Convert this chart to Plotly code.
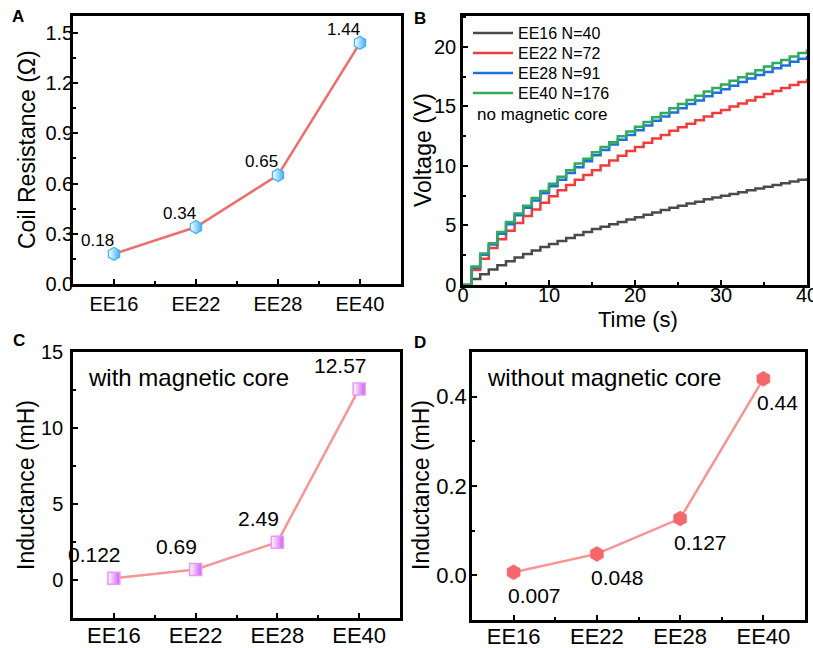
import plotly.graph_objects as go

W, H = 813, 648
FONT = "Arial, Liberation Sans, sans-serif"

# ---------------- data ----------------
categories = ["EE16", "EE22", "EE28", "EE40"]
coil_resistance = [0.18, 0.34, 0.65, 1.44]
inductance_core = [0.122, 0.69, 2.49, 12.57]
inductance_air = [0.007, 0.048, 0.127, 0.44]
resistance_labels = ["0.18", "0.34", "0.65", "1.44"]
core_labels = ["0.122", "0.69", "2.49", "12.57"]
air_labels = ["0.007", "0.048", "0.127", "0.44"]

time_s = list(range(41))
v_ee16 = [0, 0.5, 0.9, 1.3, 1.65, 2.0, 2.3, 2.6, 2.9, 3.2, 3.45, 3.7, 3.95, 4.2,
          4.45, 4.7, 4.9, 5.1, 5.3, 5.5, 5.7, 5.9, 6.1, 6.3, 6.5, 6.65, 6.85,
          7.0, 7.2, 7.35, 7.5, 7.65, 7.8, 7.95, 8.1, 8.25, 8.4, 8.55, 8.7, 8.85, 9.0]
v_ee22 = [0, 1.25, 2.2, 3.1, 3.85, 4.55, 5.2, 5.8, 6.35, 6.9, 7.45, 7.95, 8.4, 8.85,
          9.25, 9.65, 10.05, 10.45, 10.85, 11.25, 11.6, 11.95, 12.3, 12.6, 12.95,
          13.25, 13.55, 13.85, 14.15, 14.45, 14.7, 15.0, 15.25, 15.5, 15.8, 16.05,
          16.3, 16.55, 16.8, 17.05, 17.3]
v_ee28 = [0, 1.45, 2.55, 3.4, 4.3, 5.1, 5.85, 6.5, 7.1, 7.7, 8.3, 8.85, 9.4, 9.9,
          10.4, 10.9, 11.35, 11.8, 12.2, 12.6, 13.0, 13.4, 13.8, 14.15, 14.5, 14.85,
          15.2, 15.5, 15.85, 16.15, 16.45, 16.75, 17.05, 17.35, 17.65, 17.9, 18.2,
          18.45, 18.75, 19.0, 19.25]
v_ee40 = [0, 1.55, 2.65, 3.5, 4.45, 5.3, 6.0, 6.65, 7.3, 7.9, 8.5, 9.1, 9.65, 10.2,
          10.6, 11.15, 11.6, 12.0, 12.5, 12.9, 13.3, 13.7, 14.1, 14.45, 14.85, 15.2,
          15.55, 15.9, 16.25, 16.55, 16.85, 17.15, 17.45, 17.75, 18.05, 18.35, 18.65,
          18.9, 19.2, 19.5, 19.8]
series_names = ["EE16 N=40", "EE22 N=72", "EE28 N=91", "EE40 N=176"]
series_values = [v_ee16, v_ee22, v_ee28, v_ee40]
series_colors = ["#4a4a4a", "#f23c3c", "#1f6fdc", "#2faa5e"]

cat_x = list(range(len(categories)))
cat_minor = [i + 0.5 for i in range(len(categories) - 1)]


def px_x(p):
    return p / W


def px_y(p):
    return 1 - p / H


fig = go.Figure()

# ---------------- A: coil resistance ----------------
fig.add_trace(go.Scatter(
    x=cat_x, y=coil_resistance, mode="lines+markers", showlegend=False,
    line=dict(color="#f26b6b", width=2.5),
    marker=dict(symbol="hexagon", size=13, color="white",
                gradient=dict(type="horizontal", color="#3fb0f7"),
                line=dict(color="#3fb0f7", width=1.2)),
    xaxis="x", yaxis="y"))

# ---------------- B: voltage curves ----------------
legend_ids = ["legend", "legend2", "legend3", "legend4"]
for name, vals, col, lg in zip(series_names, series_values, series_colors, legend_ids):
    fig.add_trace(go.Scatter(
        x=time_s, y=vals, mode="lines", name=name, line_shape="hv", legend=lg,
        line=dict(color=col, width=2.5), xaxis="x2", yaxis="y2"))

# ---------------- C: inductance with core ----------------
fig.add_trace(go.Scatter(
    x=cat_x, y=inductance_core, mode="lines+markers", showlegend=False,
    line=dict(color="#f79696", width=2.5),
    marker=dict(symbol="square", size=12, color="white",
                gradient=dict(type="horizontal", color="#d55cf2"),
                line=dict(color="#e49af6", width=1.5)),
    xaxis="x3", yaxis="y3"))

# ---------------- D: inductance without core ----------------
fig.add_trace(go.Scatter(
    x=cat_x, y=inductance_air, mode="lines+markers", showlegend=False,
    line=dict(color="#f79494", width=2.5),
    marker=dict(symbol="hexagon", size=15, color="#f4676b",
                line=dict(color="#f4676b", width=0.5)),
    xaxis="x4", yaxis="y4"))


def minor(**kw):
    d = dict(ticks="inside", ticklen=3, tickwidth=2, tickcolor="black")
    d.update(kw)
    return d


def tf(size):
    return dict(size=size, color="black", family=FONT)


def axis_style(**kw):
    d = dict(showline=True, linecolor="black", linewidth=2.5, mirror=True,
             ticks="inside", ticklen=5, tickwidth=2, tickcolor="black",
             showgrid=False, zeroline=False, automargin=False,
             tickfont=tf(20))
    d.update(kw)
    return d


minor_cat = minor(tickmode="array", tickvals=cat_minor)

layout_legends = {}
for lg, yc in zip(legend_ids, [33, 53, 73, 93]):
    layout_legends[lg] = dict(x=px_x(468), y=px_y(yc), xanchor="left", yanchor="middle",
                              bgcolor="rgba(0,0,0,0)", font=tf(16), itemwidth=40)

fig.update_layout(
    width=W, height=H, margin=dict(l=0, r=0, t=0, b=0, autoexpand=False),
    paper_bgcolor="white", plot_bgcolor="white",
    font=dict(family=FONT, color="black"),
    xaxis=axis_style(domain=[px_x(73), px_x(401)], anchor="y", range=[-0.5, 3.5],
                     tickmode="array", tickvals=cat_x, ticktext=categories,
                     minor=minor_cat),
    yaxis=axis_style(domain=[px_y(284), px_y(16)], anchor="x", range=[0, 1.6],
                     tickmode="linear", tick0=0, dtick=0.3, tickformat=".1f",
                     ticklabelstandoff=-7, minor=minor(dtick=0.15)),
    xaxis2=axis_style(domain=[px_x(463), px_x(807)], anchor="y2", range=[0, 40],
                      tickmode="linear", tick0=0, dtick=10, ticklabelstandoff=-10,
                      ticklabeloverflow="allow", minor=minor(dtick=5)),
    yaxis2=axis_style(domain=[px_y(285), px_y(16)], anchor="x2", range=[0, 22.6],
                      tickmode="linear", tick0=0, dtick=5, ticklabelstandoff=0,
                      minor=minor(dtick=2.5)),
    xaxis3=axis_style(domain=[px_x(73), px_x(400)], anchor="y3", range=[-0.5, 3.5],
                      tickmode="array", tickvals=cat_x, ticktext=categories,
                      tickfont=tf(22), ticklabelstandoff=-4, minor=minor_cat),
    yaxis3=axis_style(domain=[px_y(618), px_y(352)], anchor="x3", range=[-2.5, 15],
                      tickmode="linear", tick0=0, dtick=5, ticklabelstandoff=3,
                      minor=minor(dtick=2.5)),
    xaxis4=axis_style(domain=[px_x(472), px_x(805)], anchor="y4", range=[-0.5, 3.5],
                      tickmode="array", tickvals=cat_x, ticktext=categories,
                      tickfont=tf(22), ticklabelstandoff=-5, minor=minor_cat),
    yaxis4=axis_style(domain=[px_y(620), px_y(352)], anchor="x4", range=[-0.1, 0.5],
                      tickmode="linear", tick0=0, dtick=0.2, tickformat=".1f",
                      ticklabelstandoff=-2, tickfont=tf(22),
                      minor=minor(dtick=0.1)),
    **layout_legends,
)

ann = []
# value labels
for i, (v, t) in enumerate(zip(coil_resistance, resistance_labels)):
    ann.append(dict(x=cat_x[i], y=v, xref="x", yref="y", text=t, showarrow=False,
                    xanchor="right", yanchor="bottom", xshift=2, yshift=2,
                    font=dict(size=17)))
for i, (v, t) in enumerate(zip(inductance_core, core_labels)):
    ann.append(dict(x=cat_x[i], y=v, xref="x3", yref="y3", text=t, showarrow=False,
                    xanchor="center", yanchor="bottom", xshift=-19, yshift=10,
                    font=dict(size=21)))
for i, (v, t) in enumerate(zip(inductance_air, air_labels)):
    ann.append(dict(x=cat_x[i], y=v, xref="x4", yref="y4", text=t, showarrow=False,
                    xanchor="left", yanchor="top", xshift=-8, yshift=-10,
                    font=dict(size=21)))


# axis titles
def title(text, x, y, angle=0, size=23):
    return dict(x=px_x(x), y=px_y(y), xref="paper", yref="paper", text=text,
                showarrow=False, xanchor="center", yanchor="middle",
                textangle=angle, font=dict(size=size))


ann += [
    title("Coil Resistance (Ω)", 27, 150, -90),
    title("Voltage (V)", 423, 150, -90),
    title("Time (s)", 638, 319, 0, 22),
    title("Inductance (mH)", 26, 485, -90),
    title("Inductance (mH)", 421, 485, -90),
]
# in-panel notes
ann += [
    dict(x=px_x(475), y=px_y(114), xref="paper", yref="paper", text="no magnetic core",
         showarrow=False, xanchor="left", yanchor="middle", font=dict(size=17)),
    dict(x=px_x(86), y=px_y(377), xref="paper", yref="paper", text="with magnetic core",
         showarrow=False, xanchor="left", yanchor="middle", font=dict(size=24)),
    dict(x=px_x(485), y=px_y(377), xref="paper", yref="paper", text="without magnetic core",
         showarrow=False, xanchor="left", yanchor="middle", font=dict(size=24)),
]
# panel letters
for letter, x, y in [("A", 18, 16), ("B", 420, 18), ("C", 19, 340), ("D", 420, 342)]:
    ann.append(dict(x=px_x(x), y=px_y(y), xref="paper", yref="paper",
                    text="<b>%s</b>" % letter, showarrow=False,
                    xanchor="center", yanchor="middle", font=dict(size=17)))

fig.update_layout(annotations=ann)
fig.write_html("out.html", config={"displayModeBar": False},
               post_script="document.body.style.margin='0px';"
                           "document.body.style.overflow='hidden';")
